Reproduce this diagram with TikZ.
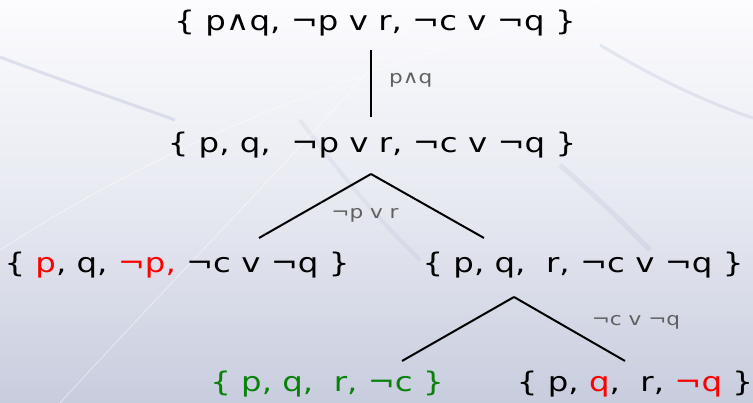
\documentclass[tikz,border=0pt]{standalone}
\usepackage{fontspec}
\setmainfont{DejaVu Sans}[FakeStretch=1.2]
\usepackage{tikz}
\usetikzlibrary{arrows}

\definecolor{bgtop}{RGB}{252,252,254}
\definecolor{bgbot}{RGB}{200,205,222}
\definecolor{band}{RGB}{150,158,195}
\definecolor{rulegray}{RGB}{96,96,96}
\definecolor{okgreen}{RGB}{10,130,10}

\newcommand{\setfont}{\fontsize{27}{32}\selectfont}
\newcommand{\rulefont}{\fontsize{18}{21}\selectfont}

\tikzset{
  clauses/.style={font=\setfont, inner sep=0pt},
  rule/.style={font=\rulefont, text=rulegray, inner sep=0pt},
  branch/.style={line width=2pt}
}

\begin{document}
\begin{tikzpicture}[x=1pt,y=-1pt]
  % slide background
  \shade[top color=bgtop, bottom color=bgbot, middle color=bgtop!60!bgbot] (0,0) rectangle (753,403);
  \useasboundingbox (0,0) rectangle (753,403);
  \draw[band, opacity=.25, line width=3pt] (0,57) .. controls (60,80) and (120,100) .. (175,120);
  \draw[band, opacity=.2, line width=3pt] (600,45) .. controls (650,75) and (700,100) .. (753,118);
  \draw[band, opacity=.15, line width=5pt] (560,165) .. controls (600,200) and (620,220) .. (650,250);
  \draw[band, opacity=.12, line width=4pt] (300,120) .. controls (360,200) and (390,230) .. (420,260);
  \draw[white, opacity=.5, line width=.8pt] (0,250) .. controls (200,120) and (400,60) .. (600,0);
  \draw[white, opacity=.5, line width=.8pt] (60,403) .. controls (200,250) and (330,120) .. (430,0);

  \node[clauses] (s0) at (375,23) {\{ p∧q, ¬p v r, ¬c v ¬q \}};
  \node[clauses] (s1) at (372,145) {\{ p, q,\ \ ¬p v r, ¬c v ¬q \}};
  \node[clauses] (s2) at (177,265) {\{ \textcolor{red}{p}, q, \textcolor{red}{¬p,} ¬c v ¬q \}};
  \node[clauses] (s3) at (583,265) {\{ p, q,\ \ r, ¬c v ¬q \}};
  \node[clauses, text=okgreen] (s4) at (327,384) {\{ p, q,\ \ r, ¬c \}};
  \node[clauses] (s5) at (635,384) {\{ p, \textcolor{red}{q},\ \ r, \textcolor{red}{¬q} \}};

  \coordinate (a0) at (371,50);
  \coordinate (a1) at (371,117);
  \coordinate (b1) at (371,174);
  \coordinate (l1) at (259,238);
  \coordinate (r1) at (484,238);
  \coordinate (b3) at (514,297);
  \coordinate (l3) at (402,361);
  \coordinate (r3) at (625,361);

  \path[branch]
  (a0) edge (a1)
  (b1) edge (l1)
  (b1) edge (r1)
  (b3) edge (l3)
  (b3) edge (r3);

  \node[rule, anchor=west] (t0) at (389,80) {p∧q};
  \node[rule] (t1) at (365,215) {¬p v r};
  \node[rule] (t3) at (636,322) {¬c v ¬q};
\end{tikzpicture}
\end{document}
